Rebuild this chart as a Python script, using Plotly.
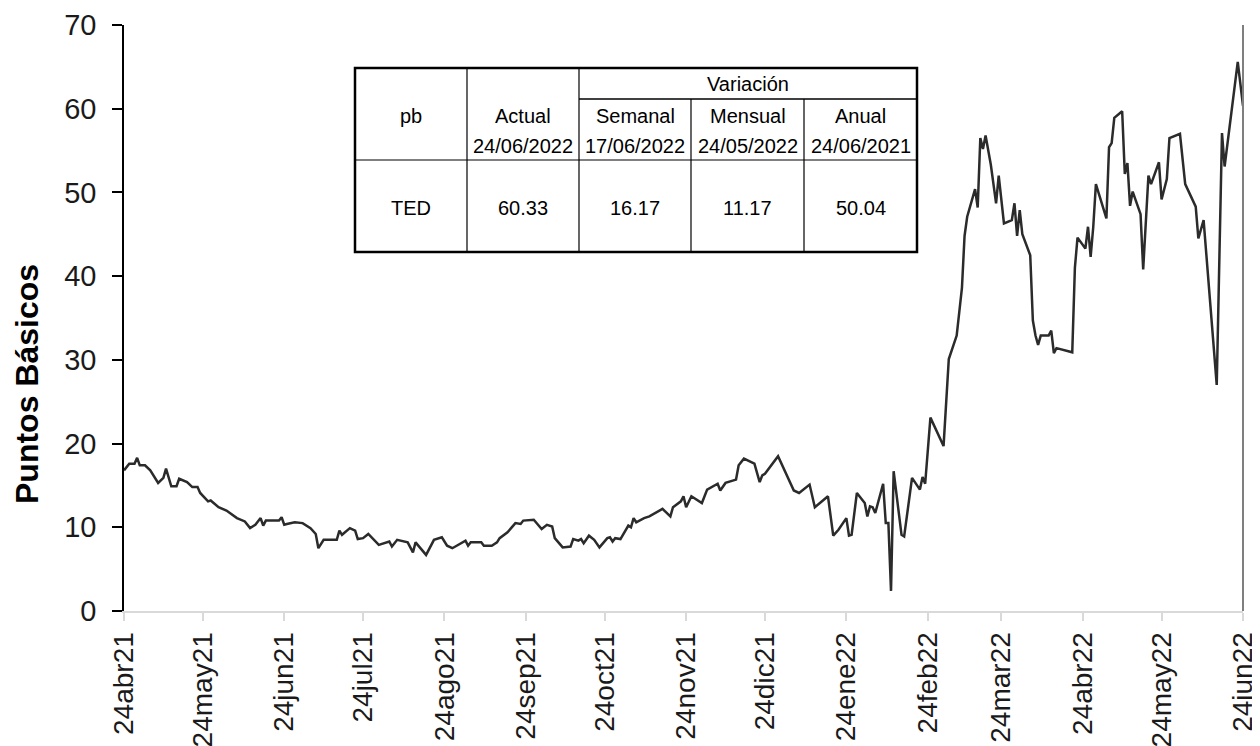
import plotly.graph_objects as go

# ---- data ----
dates = [
    "2021-04-24", "2021-04-26", "2021-04-28", "2021-04-29", "2021-04-30", "2021-05-02", "2021-05-04",
    "2021-05-07", "2021-05-09", "2021-05-10", "2021-05-12", "2021-05-14", "2021-05-15", "2021-05-18",
    "2021-05-20", "2021-05-22", "2021-05-23", "2021-05-26", "2021-05-27", "2021-05-30", "2021-06-02",
    "2021-06-06", "2021-06-09", "2021-06-11", "2021-06-13", "2021-06-15", "2021-06-16", "2021-06-17",
    "2021-06-22", "2021-06-23", "2021-06-24", "2021-06-25", "2021-06-28", "2021-07-01", "2021-07-04",
    "2021-07-06", "2021-07-07", "2021-07-09", "2021-07-14", "2021-07-15", "2021-07-16", "2021-07-19",
    "2021-07-21", "2021-07-22", "2021-07-24", "2021-07-26", "2021-07-30", "2021-08-03", "2021-08-04",
    "2021-08-06", "2021-08-10", "2021-08-12", "2021-08-13", "2021-08-15", "2021-08-17", "2021-08-20",
    "2021-08-23", "2021-08-25", "2021-08-27", "2021-09-01", "2021-09-02", "2021-09-03", "2021-09-07",
    "2021-09-08", "2021-09-11", "2021-09-13", "2021-09-14", "2021-09-17", "2021-09-20", "2021-09-22",
    "2021-09-23", "2021-09-27", "2021-09-30", "2021-10-02", "2021-10-04", "2021-10-05", "2021-10-08",
    "2021-10-11", "2021-10-12", "2021-10-14", "2021-10-15", "2021-10-16", "2021-10-18", "2021-10-20",
    "2021-10-22", "2021-10-25", "2021-10-26", "2021-10-27", "2021-10-28", "2021-10-30", "2021-11-02",
    "2021-11-03", "2021-11-04", "2021-11-05", "2021-11-08", "2021-11-10", "2021-11-15", "2021-11-18",
    "2021-11-19", "2021-11-22", "2021-11-23", "2021-11-24", "2021-11-26", "2021-11-30", "2021-12-02",
    "2021-12-06", "2021-12-07", "2021-12-09", "2021-12-13", "2021-12-14", "2021-12-16", "2021-12-20",
    "2021-12-22", "2021-12-23", "2021-12-24", "2021-12-29", "2022-01-04", "2022-01-06", "2022-01-10",
    "2022-01-12", "2022-01-17", "2022-01-19", "2022-01-21", "2022-01-24", "2022-01-25", "2022-01-26",
    "2022-01-28", "2022-01-31", "2022-02-01", "2022-02-02", "2022-02-03", "2022-02-04", "2022-02-07",
    "2022-02-08", "2022-02-09", "2022-02-10", "2022-02-11", "2022-02-14", "2022-02-15", "2022-02-18",
    "2022-02-21", "2022-02-22", "2022-02-23", "2022-02-25", "2022-03-02", "2022-03-04", "2022-03-07",
    "2022-03-09", "2022-03-10", "2022-03-11", "2022-03-14", "2022-03-15", "2022-03-16", "2022-03-17",
    "2022-03-18", "2022-03-20", "2022-03-22", "2022-03-23", "2022-03-25", "2022-03-28", "2022-03-29",
    "2022-03-30", "2022-03-31", "2022-04-01", "2022-04-04", "2022-04-05", "2022-04-06", "2022-04-07",
    "2022-04-08", "2022-04-11", "2022-04-12", "2022-04-13", "2022-04-14", "2022-04-20", "2022-04-21",
    "2022-04-22", "2022-04-25", "2022-04-26", "2022-04-27", "2022-04-28", "2022-04-29", "2022-05-03",
    "2022-05-04", "2022-05-05", "2022-05-06", "2022-05-09", "2022-05-10", "2022-05-11", "2022-05-12",
    "2022-05-13", "2022-05-16", "2022-05-17", "2022-05-19", "2022-05-20", "2022-05-23", "2022-05-24",
    "2022-05-26", "2022-05-27", "2022-05-31", "2022-06-02", "2022-06-06", "2022-06-07", "2022-06-09",
    "2022-06-14", "2022-06-16", "2022-06-17", "2022-06-22", "2022-06-24",
]
ted_values = [
    16.8, 17.6, 17.6, 18.3, 17.4, 17.4, 16.8,
    15.3, 15.9, 17.0, 14.9, 14.9, 15.8, 15.4,
    14.8, 14.8, 14.1, 13.1, 13.2, 12.4, 12.0,
    11.1, 10.7, 9.9, 10.3, 11.1, 10.2, 10.8,
    10.8, 11.2, 10.3, 10.4, 10.6, 10.5, 9.9,
    9.2, 7.5, 8.5, 8.5, 9.6, 9.1, 9.9,
    9.6, 8.6, 8.7, 9.2, 7.9, 8.3, 7.7,
    8.5, 8.2, 7.0, 8.2, 7.5, 6.7, 8.5,
    8.8, 7.8, 7.5, 8.4, 7.8, 8.2, 8.2,
    7.8, 7.8, 8.2, 8.7, 9.4, 10.5, 10.4,
    10.8, 10.9, 9.8, 10.3, 10.1, 8.7, 7.6,
    7.7, 8.6, 8.4, 8.6, 8.1, 9.0, 8.5,
    7.6, 8.7, 8.8, 8.3, 8.7, 8.6, 10.2,
    10.0, 11.1, 10.6, 11.1, 11.3, 12.2, 11.3,
    12.4, 13.1, 13.7, 12.4, 13.7, 12.9, 14.5,
    15.2, 14.4, 15.3, 15.7, 17.4, 18.2, 17.6,
    15.4, 16.2, 16.4, 18.5, 14.4, 14.1, 15.1,
    12.4, 13.7, 9.0, 9.7, 11.1, 9.0, 9.1,
    14.1, 12.9, 11.3, 12.5, 12.4, 11.7, 15.2,
    10.5, 10.5, 2.4, 16.7, 9.1, 8.9, 15.9,
    14.5, 16.0, 15.2, 23.1, 19.7, 30.1, 32.9,
    38.6, 44.8, 47.1, 50.4, 48.2, 56.5, 55.2,
    56.8, 53.3, 48.7, 52.0, 46.3, 46.7, 48.7,
    44.8, 47.9, 45.0, 42.5, 34.7, 32.9, 31.8,
    32.9, 32.9, 33.5, 30.8, 31.4, 30.9, 41.0,
    44.6, 43.3, 45.9, 42.3, 45.9, 51.0, 46.9,
    55.4, 55.9, 58.9, 59.7, 52.2, 53.5, 48.4,
    50.1, 47.4, 40.8, 52.0, 51.0, 53.6, 49.16,
    51.6, 56.5, 57.0, 51.0, 48.3, 44.5, 46.7,
    27.0, 57.1, 53.1, 65.6, 60.33,
]

tick_dates = ["2021-04-24", "2021-05-24", "2021-06-24", "2021-07-24", "2021-08-24", "2021-09-24",
              "2021-10-24", "2021-11-24", "2021-12-24", "2022-01-24", "2022-02-24", "2022-03-24",
              "2022-04-24", "2022-05-24", "2022-06-24"]
tick_labels = ["24abr21", "24may21", "24jun21", "24jul21", "24ago21", "24sep21", "24oct21",
               "24nov21", "24dic21", "24ene22", "24feb22", "24mar22", "24abr22", "24may22", "24jun22"]

table_header_top = ["Variación"]
table_header = ["pb", "Actual", "Semanal", "Mensual", "Anual"]
table_header_dates = ["", "24/06/2022", "17/06/2022", "24/05/2022", "24/06/2021"]
table_row = ["TED", "60.33", "16.17", "11.17", "50.04"]

# ---- figure ----
FONT = "Liberation Sans, Arial, sans-serif"
PAGE_OFF = 8  # default body margin of the html page
FIG_W, FIG_H = 1260 - PAGE_OFF, 746 - PAGE_OFF

fig = go.Figure()
fig.add_trace(go.Scatter(x=dates, y=ted_values, mode="lines",
                         line=dict(color="#2b2b2b", width=2.5), showlegend=False,
                         hoverinfo="x+y"))

# plot area geometry in page pixels
L, R, T, B = 124, 1243, 25, 611
W, H = R - L, B - T
def px(x):
    return (x - L) / W
def py(y):
    return (B - y) / H

shapes = []
tx = [355, 467, 579, 691, 804, 917]
ty_top, ty_var, ty_head, ty_bot = 68, 99, 160, 252
shapes.append(dict(type="rect", xref="paper", yref="paper", x0=px(tx[0]), x1=px(tx[-1]),
                   y0=py(ty_bot), y1=py(ty_top), fillcolor="white",
                   line=dict(color="black", width=2.5), layer="above"))
for i in (1, 2):
    shapes.append(dict(type="line", xref="paper", yref="paper", x0=px(tx[i]), x1=px(tx[i]),
                       y0=py(ty_bot), y1=py(ty_top), line=dict(color="black", width=1.2)))
for i in (3, 4):
    shapes.append(dict(type="line", xref="paper", yref="paper", x0=px(tx[i]), x1=px(tx[i]),
                       y0=py(ty_bot), y1=py(ty_var), line=dict(color="black", width=1.2)))
shapes.append(dict(type="line", xref="paper", yref="paper", x0=px(tx[2]), x1=px(tx[5]),
                   y0=py(ty_var), y1=py(ty_var), line=dict(color="black", width=1.5)))
shapes.append(dict(type="line", xref="paper", yref="paper", x0=px(tx[0]), x1=px(tx[5]),
                   y0=py(ty_head), y1=py(ty_head), line=dict(color="black", width=1.2)))
# right frame line
shapes.append(dict(type="line", xref="paper", yref="paper", x0=1, x1=1, y0=0, y1=1,
                   line=dict(color="#7f7f7f", width=2)))

annotations = []
tfont = dict(family=FONT, size=20, color="black")
def cell_text(text, xc, yc):
    annotations.append(dict(text=text, x=px(xc), y=py(yc), xref="paper", yref="paper",
                            xanchor="center", yanchor="middle", showarrow=False, font=tfont))

cell_text(table_header_top[0], (tx[2] + tx[5]) / 2, 84)
for i in range(5):
    cx = (tx[i] + tx[i + 1]) / 2
    cell_text(table_header[i], cx, 116)
    if table_header_dates[i]:
        cell_text(table_header_dates[i], cx, 146)
    cell_text(table_row[i], cx, 208)

# y-axis title as rotated annotation
annotations.append(dict(text="<b>Puntos Básicos</b>", textangle=-90, x=px(27), y=py(384),
                        xref="paper", yref="paper", xanchor="center", yanchor="middle",
                        showarrow=False,
                        font=dict(family="Liberation Sans Narrow, Arial Narrow, Liberation Sans, Arial",
                                  size=32, color="black")))

fig.update_layout(
    width=FIG_W, height=FIG_H,
    margin=dict(l=L - PAGE_OFF, r=FIG_W - (R - PAGE_OFF), t=T - PAGE_OFF,
                b=FIG_H - (B - PAGE_OFF), pad=0, autoexpand=False),
    paper_bgcolor="white", plot_bgcolor="white",
    shapes=shapes, annotations=annotations,
    xaxis=dict(type="date", range=["2021-04-24", "2022-06-24"], automargin=False,
               tickvals=tick_dates, ticktext=tick_labels, tickangle=-90,
               showgrid=False, zeroline=False,
               showline=True, linecolor="#d9d9d9", linewidth=2,
               ticks="outside", ticklen=8, tickcolor="#d9d9d9", tickwidth=2,
               tickfont=dict(family=FONT, size=28, color="#1a1a1a")),
    yaxis=dict(range=[0, 70], dtick=10, showgrid=False, zeroline=False, automargin=False,
               showline=True, linecolor="black", linewidth=1.5,
               ticks="outside", ticklen=10, tickcolor="black", tickwidth=1.5,
               ticklabelstandoff=10,
               tickfont=dict(family=FONT, size=29, color="#1a1a1a")),
)

fig.write_html("out.html")
